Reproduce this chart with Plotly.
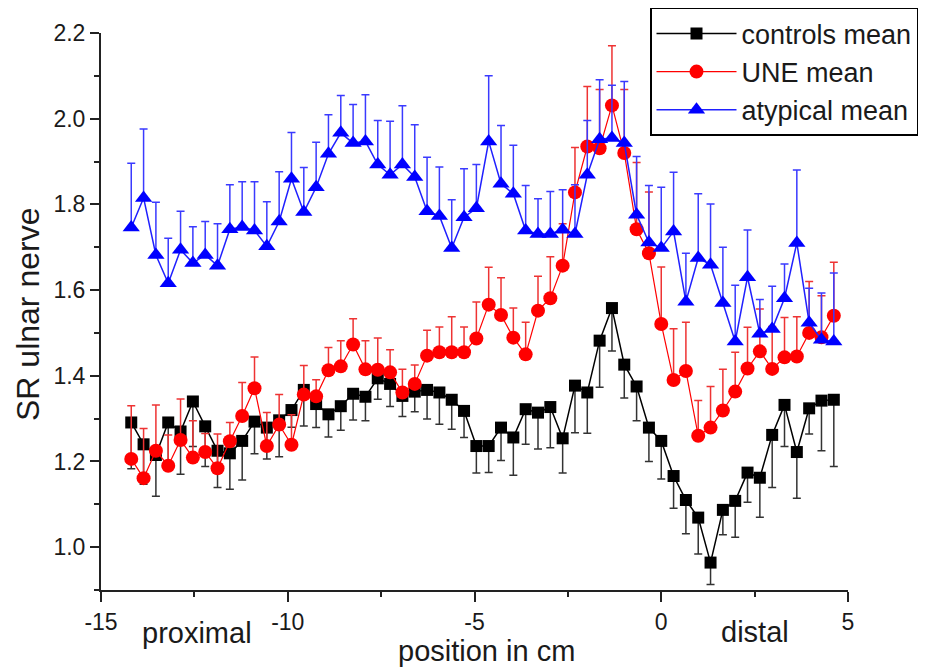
import plotly.graph_objects as go

# position in cm
position_cm = [-14.19, -13.86, -13.53, -13.20, -12.87, -12.54, -12.21, -11.88, -11.55, -11.22,
               -10.89, -10.56, -10.23, -9.90, -9.57, -9.24, -8.91, -8.58, -8.25, -7.92,
               -7.59, -7.26, -6.93, -6.60, -6.27, -5.94, -5.61, -5.28, -4.95, -4.62,
               -4.29, -3.96, -3.63, -3.30, -2.97, -2.64, -2.31, -1.98, -1.65, -1.32,
               -0.99, -0.66, -0.33, 0.00, 0.33, 0.66, 0.99, 1.32, 1.65, 1.98,
               2.31, 2.64, 2.97, 3.30, 3.63, 3.96, 4.29, 4.62]

controls_mean = [1.291, 1.240, 1.215, 1.291, 1.270, 1.340, 1.282, 1.225, 1.219, 1.248,
                 1.293, 1.279, 1.296, 1.320, 1.367, 1.334, 1.310, 1.329, 1.358, 1.351,
                 1.394, 1.381, 1.353, 1.363, 1.367, 1.361, 1.344, 1.318, 1.236, 1.236,
                 1.279, 1.256, 1.322, 1.314, 1.327, 1.254, 1.377, 1.361, 1.482, 1.558,
                 1.426, 1.375, 1.279, 1.248, 1.166, 1.110, 1.069, 0.964, 1.087, 1.108,
                 1.174, 1.162, 1.262, 1.332, 1.222, 1.324, 1.342, 1.344]
controls_err = [0.108, 0.093, 0.096, 0.111, 0.100, 0.105, 0.094, 0.086, 0.084, 0.091,
                0.075, 0.073, 0.085, 0.040, 0.084, 0.055, 0.053, 0.056, 0.061, 0.056,
                0.049, 0.053, 0.048, 0.047, 0.068, 0.074, 0.069, 0.062, 0.063, 0.062,
                0.077, 0.088, 0.082, 0.085, 0.095, 0.081, 0.110, 0.095, 0.109, 0.100,
                0.078, 0.080, 0.079, 0.089, 0.075, 0.079, 0.085, 0.051, 0.058, 0.085,
                0.069, 0.092, 0.123, 0.097, 0.108, 0.060, 0.117, 0.156]

une_mean = [1.206, 1.161, 1.225, 1.190, 1.250, 1.209, 1.222, 1.184, 1.247, 1.306,
            1.371, 1.236, 1.286, 1.239, 1.356, 1.352, 1.413, 1.422, 1.473, 1.415,
            1.414, 1.408, 1.361, 1.381, 1.447, 1.455, 1.455, 1.455, 1.487, 1.566,
            1.542, 1.489, 1.450, 1.552, 1.581, 1.657, 1.828, 1.935, 1.931, 2.031,
            1.920, 1.742, 1.686, 1.521, 1.390, 1.411, 1.260, 1.279, 1.319, 1.363,
            1.417, 1.457, 1.416, 1.443, 1.445, 1.500, 1.490, 1.540]
une_err = [0.124, 0.116, 0.107, 0.072, 0.096, 0.086, 0.043, 0.080, 0.044, 0.078,
           0.073, 0.078, 0.070, 0.070, 0.068, 0.039, 0.053, 0.060, 0.060, 0.067,
           0.074, 0.053, 0.054, 0.044, 0.059, 0.059, 0.083, 0.059, 0.085, 0.087,
           0.087, 0.069, 0.075, 0.080, 0.097, 0.098, 0.105, 0.140, 0.137, 0.139,
           0.148, 0.156, 0.143, 0.133, 0.120, 0.114, 0.082, 0.096, 0.096, 0.092,
           0.096, 0.099, 0.099, 0.093, 0.093, 0.120, 0.097, 0.125]

atypical_mean = [1.746, 1.815, 1.682, 1.616, 1.694, 1.663, 1.682, 1.657, 1.742, 1.747,
                 1.739, 1.702, 1.760, 1.860, 1.782, 1.840, 1.918, 1.967, 1.943, 1.947,
                 1.893, 1.869, 1.893, 1.864, 1.784, 1.773, 1.698, 1.770, 1.791, 1.947,
                 1.848, 1.825, 1.739, 1.731, 1.731, 1.741, 1.731, 1.869, 1.952, 1.955,
                 1.943, 1.776, 1.711, 1.698, 1.737, 1.573, 1.675, 1.659, 1.570, 1.480,
                 1.630, 1.498, 1.509, 1.581, 1.710, 1.524, 1.484, 1.480]
atypical_err = [0.150, 0.161, 0.123, 0.105, 0.090, 0.085, 0.078, 0.098, 0.104, 0.106,
                0.114, 0.104, 0.116, 0.108, 0.104, 0.105, 0.091, 0.087, 0.090, 0.109,
                0.103, 0.125, 0.137, 0.122, 0.126, 0.114, 0.113, 0.113, 0.102, 0.153,
                0.136, 0.113, 0.105, 0.082, 0.099, 0.093, 0.115, 0.127, 0.139, 0.123,
                0.144, 0.136, 0.133, 0.142, 0.138, 0.113, 0.150, 0.142, 0.130, 0.131,
                0.110, 0.080, 0.100, 0.080, 0.170, 0.080, 0.109, 0.160]

x_tick_values = [-15, -10, -5, 0, 5]
x_tick_labels = ["-15", "-10", "-5", "0", "5"]
y_tick_values = [1.0, 1.2, 1.4, 1.6, 1.8, 2.0, 2.2]

zeros = [0.0] * len(position_cm)

FONT = "Liberation Sans, Arial, sans-serif"
TXT = "#1a1a1a"

# margins (the page body adds an 8 px offset to the figure)
M_L, M_R, M_T, M_B = 93, 91, 25, 86
W, H = 931, 668
PLOT_W = W - M_L - M_R
PLOT_H = H - M_T - M_B


def screen_y_to_paper(py):
    return 1 - (py - 8 - M_T) / PLOT_H


def screen_x_to_paper(px):
    return (px - 8 - M_L) / PLOT_W


fig = go.Figure()

fig.add_trace(go.Scatter(
    x=position_cm, y=controls_mean, name="controls mean", mode="lines+markers",
    line=dict(color="#000000", width=1.5),
    marker=dict(symbol="square", size=12, color="#000000"),
    error_y=dict(type="data", symmetric=False, array=zeros, arrayminus=controls_err,
                 color="#333333", thickness=1.5, width=4),
))
fig.add_trace(go.Scatter(
    x=position_cm, y=une_mean, name="UNE mean", mode="lines+markers",
    line=dict(color="#ff0000", width=1.2),
    marker=dict(symbol="circle", size=14, color="#ff0000"),
    error_y=dict(type="data", symmetric=False, array=une_err, arrayminus=zeros,
                 color="#ee3333", thickness=1.5, width=4),
))
fig.add_trace(go.Scatter(
    x=position_cm, y=atypical_mean, name="atypical mean", mode="lines+markers",
    line=dict(color="#2020ff", width=1.5),
    marker=dict(symbol="triangle-up", size=15, color="#0000ff"),
    error_y=dict(type="data", symmetric=False, array=atypical_err, arrayminus=zeros,
                 color="#3a3aff", thickness=1.5, width=4),
))

fig.update_layout(
    width=W, height=H,
    margin=dict(l=M_L, r=M_R, t=M_T, b=M_B, autoexpand=False),
    paper_bgcolor="white", plot_bgcolor="white",
    font=dict(family=FONT, size=23, color=TXT),
    showlegend=True,
    legend=dict(x=screen_x_to_paper(650), y=1.045, xanchor="left", yanchor="top",
                bordercolor="#000000", borderwidth=1.5, bgcolor="white",
                font=dict(size=27, color=TXT), itemwidth=80),
    xaxis=dict(range=[-15, 5], showgrid=False, zeroline=False, automargin=False,
               showline=True, linecolor="#222222", linewidth=2,
               ticks="outside", ticklen=10, tickwidth=2, tickcolor="#222222",
               tickvals=x_tick_values, ticktext=x_tick_labels,
               minor=dict(ticks="outside", ticklen=5, tickwidth=2, tickcolor="#222222", dtick=2.5),
               tickfont=dict(size=23)),
    yaxis=dict(range=[0.9, 2.2], showgrid=False, zeroline=False, automargin=False,
               showline=True, linecolor="#222222", linewidth=2,
               ticks="outside", ticklen=9, tickwidth=2, tickcolor="#222222",
               tickvals=y_tick_values, tickformat=".1f",
               minor=dict(ticks="outside", ticklen=5, tickwidth=2, tickcolor="#222222", dtick=0.1),
               tickfont=dict(size=23)),
    annotations=[
        dict(text="position in cm", x=screen_x_to_paper(486), y=screen_y_to_paper(651),
             xref="paper", yref="paper", xanchor="center", yanchor="middle",
             showarrow=False, font=dict(size=29, color=TXT)),
        dict(text="SR ulnar nerve", x=screen_x_to_paper(28), y=screen_y_to_paper(315),
             xref="paper", yref="paper", xanchor="center", yanchor="middle",
             showarrow=False, textangle=-90, font=dict(size=32, color=TXT)),
        dict(text="proximal", x=-12.44, y=screen_y_to_paper(633), xref="x", yref="paper",
             xanchor="center", yanchor="middle",
             showarrow=False, font=dict(size=29, color=TXT)),
        dict(text="distal", x=2.5, y=screen_y_to_paper(632), xref="x", yref="paper",
             xanchor="center", yanchor="middle",
             showarrow=False, font=dict(size=29, color=TXT)),
    ],
)

fig.write_html("out.html")
